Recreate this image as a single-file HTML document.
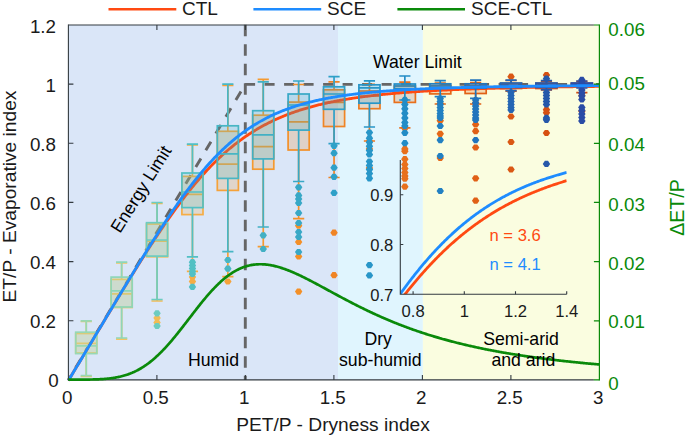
<!DOCTYPE html><html><head><meta charset="utf-8"><style>html,body{margin:0;padding:0;background:#fff;}svg{display:block;}text{font-family:"Liberation Sans",sans-serif;}</style></head><body>
<svg width="685" height="436" viewBox="0 0 685 436">
<rect x="68.4" y="25.0" width="269.6" height="354.9" fill="#dae6f8"/>
<rect x="338.0" y="25.0" width="84.9" height="354.9" fill="#e0f5fe"/>
<rect x="422.9" y="25.0" width="176.5" height="354.9" fill="#fafde0"/>
<polyline points="245.10,84.35 599.40,84.35" stroke="#666666" stroke-width="2.9" fill="none" stroke-dasharray="10 9.5"/>
<polyline points="245.40,84.15 68.40,379.90" stroke="#666666" stroke-width="2.9" fill="none" stroke-dasharray="10 9.5" stroke-dashoffset="10.9"/>
<line x1="245.30" y1="24.80" x2="245.30" y2="379.90" stroke="#666666" stroke-width="2.9" fill="none" stroke-dasharray="11.5 8"/>
<rect x="75.70" y="333.50" width="21.10" height="19.50" fill="#f3c766" fill-opacity="0.23" stroke="none"/>
<rect x="111.10" y="279.40" width="21.10" height="28.10" fill="#f2c462" fill-opacity="0.23" stroke="none"/>
<rect x="146.50" y="224.00" width="21.10" height="32.80" fill="#f2bc55" fill-opacity="0.23" stroke="none"/>
<rect x="181.90" y="176.40" width="21.10" height="38.20" fill="#f5ad45" fill-opacity="0.23" stroke="none"/>
<rect x="217.30" y="131.30" width="21.10" height="59.10" fill="#f5a23a" fill-opacity="0.23" stroke="none"/>
<rect x="252.70" y="115.20" width="21.10" height="54.00" fill="#f59a30" fill-opacity="0.23" stroke="none"/>
<rect x="288.10" y="102.10" width="21.10" height="47.90" fill="#f39028" fill-opacity="0.23" stroke="none"/>
<rect x="323.50" y="89.80" width="21.10" height="36.70" fill="#f08424" fill-opacity="0.23" stroke="none"/>
<rect x="358.90" y="91.00" width="21.10" height="17.70" fill="#ec7a20" fill-opacity="0.23" stroke="none"/>
<rect x="394.30" y="86.00" width="21.10" height="16.40" fill="#e8701c" fill-opacity="0.23" stroke="none"/>
<rect x="429.70" y="85.60" width="21.10" height="8.30" fill="#e46818" fill-opacity="0.23" stroke="none"/>
<rect x="465.10" y="85.50" width="21.10" height="8.00" fill="#e06016" fill-opacity="0.23" stroke="none"/>
<rect x="500.50" y="83.50" width="21.10" height="5.00" fill="#da5814" fill-opacity="0.23" stroke="none"/>
<rect x="535.90" y="83.50" width="21.10" height="5.00" fill="#d65012" fill-opacity="0.23" stroke="none"/>
<rect x="571.30" y="83.50" width="21.10" height="3.00" fill="#d04c10" fill-opacity="0.23" stroke="none"/>
<path d="M86.25 321.50V333.50M86.25 353.00V376.50M80.65 321.50H91.85M80.65 376.50H91.85M75.70 343.30H96.80" stroke="#f3c766" stroke-width="1.7" fill="none"/>
<rect x="75.70" y="333.50" width="21.10" height="19.50" stroke="#f3c766" stroke-width="1.7" fill="none"/>
<path d="M121.65 263.00V279.40M121.65 307.50V339.20M116.05 263.00H127.25M116.05 339.20H127.25M111.10 293.90H132.20" stroke="#f2c462" stroke-width="1.7" fill="none"/>
<rect x="111.10" y="279.40" width="21.10" height="28.10" stroke="#f2c462" stroke-width="1.7" fill="none"/>
<path d="M157.05 203.50V224.00M157.05 256.80V301.00M151.45 203.50H162.65M151.45 301.00H162.65M146.50 241.20H167.60" stroke="#f2bc55" stroke-width="1.7" fill="none"/>
<rect x="146.50" y="224.00" width="21.10" height="32.80" stroke="#f2bc55" stroke-width="1.7" fill="none"/>
<path d="M192.45 145.00V176.40M192.45 214.60V271.40M186.85 145.00H198.05M186.85 271.40H198.05M181.90 194.40H203.00" stroke="#f5ad45" stroke-width="1.7" fill="none"/>
<rect x="181.90" y="176.40" width="21.10" height="38.20" stroke="#f5ad45" stroke-width="1.7" fill="none"/>
<path d="M227.85 85.50V131.30M227.85 190.40V276.70M222.25 85.50H233.45M222.25 276.70H233.45M217.30 164.20H238.40" stroke="#f5a23a" stroke-width="1.7" fill="none"/>
<rect x="217.30" y="131.30" width="21.10" height="59.10" stroke="#f5a23a" stroke-width="1.7" fill="none"/>
<path d="M263.25 79.30V115.20M263.25 169.20V246.60M257.65 79.30H268.85M257.65 246.60H268.85M252.70 146.70H273.80" stroke="#f59a30" stroke-width="1.7" fill="none"/>
<rect x="252.70" y="115.20" width="21.10" height="54.00" stroke="#f59a30" stroke-width="1.7" fill="none"/>
<path d="M298.65 84.50V102.10M298.65 150.00V218.60M293.05 84.50H304.25M293.05 218.60H304.25M288.10 121.80H309.20" stroke="#f39028" stroke-width="1.7" fill="none"/>
<rect x="288.10" y="102.10" width="21.10" height="47.90" stroke="#f39028" stroke-width="1.7" fill="none"/>
<path d="M334.05 81.80V89.80M334.05 126.50V177.50M328.45 81.80H339.65M328.45 177.50H339.65M323.50 102.40H344.60" stroke="#f08424" stroke-width="1.7" fill="none"/>
<rect x="323.50" y="89.80" width="21.10" height="36.70" stroke="#f08424" stroke-width="1.7" fill="none"/>
<path d="M369.45 84.30V91.00M369.45 108.70V141.00M363.85 84.30H375.05M363.85 141.00H375.05M358.90 96.00H380.00" stroke="#ec7a20" stroke-width="1.7" fill="none"/>
<rect x="358.90" y="91.00" width="21.10" height="17.70" stroke="#ec7a20" stroke-width="1.7" fill="none"/>
<path d="M404.85 82.20V86.00M404.85 102.40V127.80M399.25 82.20H410.45M399.25 127.80H410.45M394.30 92.00H415.40" stroke="#e8701c" stroke-width="1.7" fill="none"/>
<rect x="394.30" y="86.00" width="21.10" height="16.40" stroke="#e8701c" stroke-width="1.7" fill="none"/>
<path d="M440.25 83.00V85.60M440.25 93.90V104.00M434.65 83.00H445.85M434.65 104.00H445.85M429.70 89.00H450.80" stroke="#e46818" stroke-width="1.7" fill="none"/>
<rect x="429.70" y="85.60" width="21.10" height="8.30" stroke="#e46818" stroke-width="1.7" fill="none"/>
<path d="M475.65 82.50V85.50M475.65 93.50V104.00M470.05 82.50H481.25M470.05 104.00H481.25M465.10 89.00H486.20" stroke="#e06016" stroke-width="1.7" fill="none"/>
<rect x="465.10" y="85.50" width="21.10" height="8.00" stroke="#e06016" stroke-width="1.7" fill="none"/>
<path d="M511.05 80.50V83.50M511.05 88.50V91.20M505.45 80.50H516.65M505.45 91.20H516.65M500.50 86.00H521.60" stroke="#da5814" stroke-width="1.7" fill="none"/>
<rect x="500.50" y="83.50" width="21.10" height="5.00" stroke="#da5814" stroke-width="1.7" fill="none"/>
<path d="M546.45 81.50V83.50M546.45 88.50V90.00M540.85 81.50H552.05M540.85 90.00H552.05M535.90 86.00H557.00" stroke="#d65012" stroke-width="1.7" fill="none"/>
<rect x="535.90" y="83.50" width="21.10" height="5.00" stroke="#d65012" stroke-width="1.7" fill="none"/>
<path d="M581.85 81.50V83.50M581.85 86.50V92.60M576.25 81.50H587.45M576.25 92.60H587.45M571.30 85.00H592.40" stroke="#d04c10" stroke-width="1.7" fill="none"/>
<rect x="571.30" y="83.50" width="21.10" height="3.00" stroke="#d04c10" stroke-width="1.7" fill="none"/>
<path d="M153.35 318.00l2.1 -3.1h3.2l2.1 3.1l-2.1 3.1h-3.2z" fill="#f2bc55"/>
<path d="M153.35 322.50l2.1 -3.1h3.2l2.1 3.1l-2.1 3.1h-3.2z" fill="#f2bc55"/>
<path d="M188.75 277.00l2.1 -3.1h3.2l2.1 3.1l-2.1 3.1h-3.2z" fill="#f5ad45"/>
<path d="M188.75 281.50l2.1 -3.1h3.2l2.1 3.1l-2.1 3.1h-3.2z" fill="#f5ad45"/>
<path d="M224.15 281.50l2.1 -3.1h3.2l2.1 3.1l-2.1 3.1h-3.2z" fill="#f5a23a"/>
<path d="M294.95 225.70l2.1 -3.1h3.2l2.1 3.1l-2.1 3.1h-3.2z" fill="#f39028"/>
<path d="M294.95 242.00l2.1 -3.1h3.2l2.1 3.1l-2.1 3.1h-3.2z" fill="#f39028"/>
<path d="M294.95 256.50l2.1 -3.1h3.2l2.1 3.1l-2.1 3.1h-3.2z" fill="#f39028"/>
<path d="M294.95 291.60l2.1 -3.1h3.2l2.1 3.1l-2.1 3.1h-3.2z" fill="#f39028"/>
<path d="M330.35 232.70l2.1 -3.1h3.2l2.1 3.1l-2.1 3.1h-3.2z" fill="#f08424"/>
<path d="M330.35 275.20l2.1 -3.1h3.2l2.1 3.1l-2.1 3.1h-3.2z" fill="#f08424"/>
<path d="M365.75 141.20l2.1 -3.1h3.2l2.1 3.1l-2.1 3.1h-3.2z" fill="#ec7a20"/>
<path d="M365.75 148.90l2.1 -3.1h3.2l2.1 3.1l-2.1 3.1h-3.2z" fill="#ec7a20"/>
<path d="M365.75 168.10l2.1 -3.1h3.2l2.1 3.1l-2.1 3.1h-3.2z" fill="#ec7a20"/>
<path d="M401.15 128.30l2.1 -3.1h3.2l2.1 3.1l-2.1 3.1h-3.2z" fill="#e8701c"/>
<path d="M401.15 148.90l2.1 -3.1h3.2l2.1 3.1l-2.1 3.1h-3.2z" fill="#e8701c"/>
<path d="M401.15 151.20l2.1 -3.1h3.2l2.1 3.1l-2.1 3.1h-3.2z" fill="#e8701c"/>
<path d="M401.15 159.20l2.1 -3.1h3.2l2.1 3.1l-2.1 3.1h-3.2z" fill="#e8701c"/>
<path d="M401.15 164.50l2.1 -3.1h3.2l2.1 3.1l-2.1 3.1h-3.2z" fill="#e8701c"/>
<path d="M401.15 168.50l2.1 -3.1h3.2l2.1 3.1l-2.1 3.1h-3.2z" fill="#e8701c"/>
<path d="M401.15 172.50l2.1 -3.1h3.2l2.1 3.1l-2.1 3.1h-3.2z" fill="#e8701c"/>
<path d="M401.15 176.00l2.1 -3.1h3.2l2.1 3.1l-2.1 3.1h-3.2z" fill="#e8701c"/>
<path d="M401.15 178.70l2.1 -3.1h3.2l2.1 3.1l-2.1 3.1h-3.2z" fill="#e8701c"/>
<path d="M401.15 186.70l2.1 -3.1h3.2l2.1 3.1l-2.1 3.1h-3.2z" fill="#e8701c"/>
<path d="M436.55 103.60l2.1 -3.1h3.2l2.1 3.1l-2.1 3.1h-3.2z" fill="#e46818"/>
<path d="M436.55 120.70l2.1 -3.1h3.2l2.1 3.1l-2.1 3.1h-3.2z" fill="#e46818"/>
<path d="M436.55 133.80l2.1 -3.1h3.2l2.1 3.1l-2.1 3.1h-3.2z" fill="#e46818"/>
<path d="M436.55 158.00l2.1 -3.1h3.2l2.1 3.1l-2.1 3.1h-3.2z" fill="#e46818"/>
<path d="M471.95 102.80l2.1 -3.1h3.2l2.1 3.1l-2.1 3.1h-3.2z" fill="#e06016"/>
<path d="M471.95 124.40l2.1 -3.1h3.2l2.1 3.1l-2.1 3.1h-3.2z" fill="#e06016"/>
<path d="M471.95 131.20l2.1 -3.1h3.2l2.1 3.1l-2.1 3.1h-3.2z" fill="#e06016"/>
<path d="M471.95 147.50l2.1 -3.1h3.2l2.1 3.1l-2.1 3.1h-3.2z" fill="#e06016"/>
<path d="M471.95 178.30l2.1 -3.1h3.2l2.1 3.1l-2.1 3.1h-3.2z" fill="#e06016"/>
<path d="M471.95 200.70l2.1 -3.1h3.2l2.1 3.1l-2.1 3.1h-3.2z" fill="#e06016"/>
<path d="M507.35 76.70l2.1 -3.1h3.2l2.1 3.1l-2.1 3.1h-3.2z" fill="#da5814"/>
<path d="M507.35 116.50l2.1 -3.1h3.2l2.1 3.1l-2.1 3.1h-3.2z" fill="#da5814"/>
<path d="M507.35 142.00l2.1 -3.1h3.2l2.1 3.1l-2.1 3.1h-3.2z" fill="#da5814"/>
<path d="M507.35 169.50l2.1 -3.1h3.2l2.1 3.1l-2.1 3.1h-3.2z" fill="#da5814"/>
<path d="M542.75 75.10l2.1 -3.1h3.2l2.1 3.1l-2.1 3.1h-3.2z" fill="#d65012"/>
<path d="M542.75 109.70l2.1 -3.1h3.2l2.1 3.1l-2.1 3.1h-3.2z" fill="#d65012"/>
<path d="M542.75 112.70l2.1 -3.1h3.2l2.1 3.1l-2.1 3.1h-3.2z" fill="#d65012"/>
<path d="M542.75 133.00l2.1 -3.1h3.2l2.1 3.1l-2.1 3.1h-3.2z" fill="#d65012"/>
<path d="M578.15 95.50l2.1 -3.1h3.2l2.1 3.1l-2.1 3.1h-3.2z" fill="#d04c10"/>
<path d="M578.15 111.20l2.1 -3.1h3.2l2.1 3.1l-2.1 3.1h-3.2z" fill="#d04c10"/>
<polyline points="68.49,380.45 69.37,378.97 70.26,377.49 71.15,376.01 72.03,374.53 72.92,373.05 73.81,371.57 74.69,370.09 75.58,368.60 76.47,367.12 77.35,365.64 78.24,364.16 79.12,362.68 80.01,361.20 80.90,359.72 81.78,358.24 82.67,356.76 83.56,355.28 84.44,353.80 85.33,352.32 86.22,350.83 87.10,349.35 87.99,347.87 88.87,346.39 89.76,344.91 90.65,343.43 91.53,341.95 92.42,340.47 93.31,338.99 94.19,337.52 95.08,336.04 95.96,334.56 96.85,333.08 97.74,331.60 98.62,330.12 99.51,328.65 100.40,327.17 101.28,325.69 102.17,324.22 103.06,322.74 103.94,321.26 104.83,319.79 105.71,318.31 106.60,316.84 107.49,315.37 108.37,313.90 109.26,312.42 110.15,310.95 111.03,309.48 111.92,308.01 112.80,306.54 113.69,305.08 114.58,303.61 115.46,302.15 116.35,300.68 117.24,299.22 118.12,297.75 119.01,296.29 119.90,294.83 120.78,293.38 121.67,291.92 122.55,290.46 123.44,289.01 124.33,287.56 125.21,286.11 126.10,284.66 126.99,283.21 127.87,281.76 128.76,280.32 129.65,278.88 130.53,277.44 131.42,276.00 132.30,274.57 133.19,273.13 134.08,271.70 134.96,270.28 135.85,268.85 136.74,267.43 137.62,266.01 138.51,264.59 139.39,263.17 140.28,261.76 141.17,260.35 142.05,258.95 142.94,257.55 143.83,256.15 144.71,254.75 145.60,253.36 146.49,251.97 147.37,250.58 148.26,249.20 149.14,247.82 150.03,246.45 150.92,245.08 151.80,243.71 152.69,242.35 153.58,241.00 154.46,239.64 155.35,238.29 156.24,236.95 157.12,235.61 158.01,234.28 158.89,232.95 159.78,231.62 160.67,230.30 161.55,228.99 162.44,227.68 163.33,226.37 164.21,225.07 165.10,223.78 165.98,222.49 166.87,221.21 167.76,219.93 168.64,218.66 169.53,217.39 170.42,216.14 171.30,214.88 172.19,213.64 173.08,212.39 173.96,211.16 174.85,209.93 175.73,208.71 176.62,207.50 177.51,206.29 178.39,205.09 179.28,203.89 180.17,202.70 181.05,201.52 181.94,200.35 182.83,199.18 183.71,198.02 184.60,196.87 185.48,195.72 186.37,194.59 187.26,193.46 188.14,192.33 189.03,191.22 189.92,190.11 190.80,189.01 191.69,187.92 192.57,186.83 193.46,185.75 194.35,184.68 195.23,183.62 196.12,182.57 197.01,181.52 197.89,180.48 198.78,179.45 199.67,178.43 200.55,177.42 201.44,176.41 202.32,175.41 203.21,174.42 204.10,173.44 204.98,172.47 205.87,171.50 206.76,170.55 207.64,169.60 208.53,168.66 209.41,167.72 210.30,166.80 211.19,165.88 212.07,164.98 212.96,164.08 213.85,163.19 214.73,162.30 215.62,161.43 216.51,160.56 217.39,159.70 218.28,158.85 219.16,158.01 220.05,157.18 220.94,156.35 221.82,155.53 222.71,154.72 223.60,153.92 224.48,153.13 225.37,152.34 226.26,151.56 227.14,150.79 228.03,150.03 228.91,149.28 229.80,148.53 230.69,147.79 231.57,147.06 232.46,146.34 233.35,145.63 234.23,144.92 235.12,144.22 236.00,143.53 236.89,142.84 237.78,142.17 238.66,141.50 239.55,140.83 240.44,140.18 241.32,139.53 242.21,138.89 243.10,138.26 243.98,137.63 244.87,137.02 245.75,136.40 246.64,135.80 247.53,135.20 248.41,134.61 249.30,134.03 250.19,133.45 251.07,132.88 251.96,132.32 252.85,131.76 253.73,131.21 254.62,130.67 255.50,130.13 256.39,129.60 257.28,129.07 258.16,128.55 259.05,128.04 259.94,127.54 260.82,127.04 261.71,126.54 262.59,126.05 263.48,125.57 264.37,125.10 265.25,124.63 266.14,124.16 267.03,123.70 267.91,123.25 268.80,122.80 269.69,122.36 270.57,121.92 271.46,121.49 272.34,121.07 273.23,120.65 274.12,120.23 275.00,119.82 275.89,119.42 276.78,119.02 277.66,118.62 278.55,118.23 279.43,117.85 280.32,117.47 281.21,117.09 282.09,116.72 282.98,116.35 283.87,115.99 284.75,115.63 285.64,115.28 286.53,114.93 287.41,114.59 288.30,114.25 289.18,113.92 290.07,113.59 290.96,113.26 291.84,112.94 292.73,112.62 293.62,112.30 294.50,111.99 295.39,111.69 296.28,111.38 297.16,111.09 298.05,110.79 298.93,110.50 299.82,110.21 300.71,109.93 301.59,109.65 302.48,109.37 303.37,109.10 304.25,108.83 305.14,108.56 306.02,108.30 306.91,108.04 307.80,107.78 308.68,107.53 309.57,107.28 310.46,107.03 311.34,106.79 312.23,106.55 313.12,106.31 314.00,106.08 314.89,105.85 315.77,105.62 316.66,105.39 317.55,105.17 318.43,104.95 319.32,104.73 320.21,104.52 321.09,104.30 321.98,104.10 322.87,103.89 323.75,103.68 324.64,103.48 325.52,103.28 326.41,103.09 327.30,102.89 328.18,102.70 329.07,102.51 329.96,102.33 330.84,102.14 331.73,101.96 332.61,101.78 333.50,101.60 334.39,101.43 335.27,101.25 336.16,101.08 337.05,100.91 337.93,100.75 338.82,100.58 339.71,100.42 340.59,100.26 341.48,100.10 342.36,99.94 343.25,99.79 344.14,99.63 345.02,99.48 345.91,99.33 346.80,99.18 347.68,99.04 348.57,98.89 349.46,98.75 350.34,98.61 351.23,98.47 352.11,98.34 353.00,98.20 353.89,98.07 354.77,97.93 355.66,97.80 356.55,97.67 357.43,97.55 358.32,97.42 359.20,97.30 360.09,97.17 360.98,97.05 361.86,96.93 362.75,96.81 363.64,96.69 364.52,96.58 365.41,96.46 366.30,96.35 367.18,96.24 368.07,96.13 368.95,96.02 369.84,95.91 370.73,95.80 371.61,95.70 372.50,95.59 373.39,95.49 374.27,95.39 375.16,95.29 376.04,95.19 376.93,95.09 377.82,94.99 378.70,94.90 379.59,94.80 380.48,94.71 381.36,94.62 382.25,94.53 383.14,94.43 384.02,94.35 384.91,94.26 385.79,94.17 386.68,94.08 387.57,94.00 388.45,93.91 389.34,93.83 390.23,93.75 391.11,93.66 392.00,93.58 392.89,93.50 393.77,93.42 394.66,93.35 395.54,93.27 396.43,93.19 397.32,93.12 398.20,93.04 399.09,92.97 399.98,92.89 400.86,92.82 401.75,92.75 402.63,92.68 403.52,92.61 404.41,92.54 405.29,92.47 406.18,92.41 407.07,92.34 407.95,92.27 408.84,92.21 409.73,92.14 410.61,92.08 411.50,92.01 412.38,91.95 413.27,91.89 414.16,91.83 415.04,91.77 415.93,91.71 416.82,91.65 417.70,91.59 418.59,91.53 419.48,91.47 420.36,91.42 421.25,91.36 422.13,91.31 423.02,91.25 423.91,91.20 424.79,91.14 425.68,91.09 426.57,91.04 427.45,90.98 428.34,90.93 429.22,90.88 430.11,90.83 431.00,90.78 431.88,90.73 432.77,90.68 433.66,90.63 434.54,90.59 435.43,90.54 436.32,90.49 437.20,90.44 438.09,90.40 438.97,90.35 439.86,90.31 440.75,90.26 441.63,90.22 442.52,90.17 443.41,90.13 444.29,90.09 445.18,90.05 446.06,90.00 446.95,89.96 447.84,89.92 448.72,89.88 449.61,89.84 450.50,89.80 451.38,89.76 452.27,89.72 453.16,89.68 454.04,89.64 454.93,89.61 455.81,89.57 456.70,89.53 457.59,89.49 458.47,89.46 459.36,89.42 460.25,89.39 461.13,89.35 462.02,89.31 462.91,89.28 463.79,89.25 464.68,89.21 465.56,89.18 466.45,89.14 467.34,89.11 468.22,89.08 469.11,89.05 470.00,89.01 470.88,88.98 471.77,88.95 472.65,88.92 473.54,88.89 474.43,88.86 475.31,88.83 476.20,88.80 477.09,88.77 477.97,88.74 478.86,88.71 479.75,88.68 480.63,88.65 481.52,88.62 482.40,88.59 483.29,88.57 484.18,88.54 485.06,88.51 485.95,88.48 486.84,88.46 487.72,88.43 488.61,88.40 489.50,88.38 490.38,88.35 491.27,88.33 492.15,88.30 493.04,88.28 493.93,88.25 494.81,88.23 495.70,88.20 496.59,88.18 497.47,88.15 498.36,88.13 499.24,88.11 500.13,88.08 501.02,88.06 501.90,88.04 502.79,88.01 503.68,87.99 504.56,87.97 505.45,87.95 506.34,87.92 507.22,87.90 508.11,87.88 508.99,87.86 509.88,87.84 510.77,87.82 511.65,87.80 512.54,87.78 513.43,87.76 514.31,87.74 515.20,87.72 516.09,87.70 516.97,87.68 517.86,87.66 518.74,87.64 519.63,87.62 520.52,87.60 521.40,87.58 522.29,87.56 523.18,87.54 524.06,87.52 524.95,87.51 525.83,87.49 526.72,87.47 527.61,87.45 528.49,87.43 529.38,87.42 530.27,87.40 531.15,87.38 532.04,87.36 532.93,87.35 533.81,87.33 534.70,87.31 535.58,87.30 536.47,87.28 537.36,87.27 538.24,87.25 539.13,87.23 540.02,87.22 540.90,87.20 541.79,87.19 542.67,87.17 543.56,87.16 544.45,87.14 545.33,87.13 546.22,87.11 547.11,87.10 547.99,87.08 548.88,87.07 549.77,87.05 550.65,87.04 551.54,87.02 552.42,87.01 553.31,87.00 554.20,86.98 555.08,86.97 555.97,86.95 556.86,86.94 557.74,86.93 558.63,86.91 559.52,86.90 560.40,86.89 561.29,86.88 562.17,86.86 563.06,86.85 563.95,86.84 564.83,86.82 565.72,86.81 566.61,86.80 567.49,86.79 568.38,86.78 569.26,86.76 570.15,86.75 571.04,86.74 571.92,86.73 572.81,86.72 573.70,86.70 574.58,86.69 575.47,86.68 576.36,86.67 577.24,86.66 578.13,86.65 579.01,86.64 579.90,86.63 580.79,86.62 581.67,86.60 582.56,86.59 583.45,86.58 584.33,86.57 585.22,86.56 586.11,86.55 586.99,86.54 587.88,86.53 588.76,86.52 589.65,86.51 590.54,86.50 591.42,86.49 592.31,86.48 593.20,86.47 594.08,86.46 594.97,86.45 595.85,86.44 596.74,86.43 597.63,86.42 598.51,86.41 599.40,86.40" stroke="#ff4a12" stroke-width="2.85" fill="none" stroke-linejoin="round"/>
<rect x="75.70" y="332.20" width="21.10" height="21.40" fill="#97d8b4" fill-opacity="0.22" stroke="none"/>
<rect x="111.10" y="277.10" width="21.10" height="29.90" fill="#8ed6b8" fill-opacity="0.22" stroke="none"/>
<rect x="146.50" y="222.70" width="21.10" height="33.40" fill="#6cccc0" fill-opacity="0.22" stroke="none"/>
<rect x="181.90" y="173.00" width="21.10" height="34.60" fill="#52c0c4" fill-opacity="0.22" stroke="none"/>
<rect x="217.30" y="125.80" width="21.10" height="52.60" fill="#48b6c4" fill-opacity="0.22" stroke="none"/>
<rect x="252.70" y="110.70" width="21.10" height="48.20" fill="#42b0c4" fill-opacity="0.22" stroke="none"/>
<rect x="288.10" y="94.00" width="21.10" height="36.10" fill="#38a8c6" fill-opacity="0.22" stroke="none"/>
<rect x="323.50" y="86.80" width="21.10" height="22.50" fill="#2ea0c8" fill-opacity="0.22" stroke="none"/>
<rect x="358.90" y="84.80" width="21.10" height="18.40" fill="#2896c8" fill-opacity="0.22" stroke="none"/>
<rect x="394.30" y="84.00" width="21.10" height="4.70" fill="#228cc6" fill-opacity="0.22" stroke="none"/>
<rect x="429.70" y="83.80" width="21.10" height="4.50" fill="#2280c2" fill-opacity="0.22" stroke="none"/>
<rect x="465.10" y="83.80" width="21.10" height="4.20" fill="#2274bc" fill-opacity="0.22" stroke="none"/>
<rect x="500.50" y="83.00" width="21.10" height="4.50" fill="#2466b4" fill-opacity="0.22" stroke="none"/>
<rect x="535.90" y="83.00" width="21.10" height="4.50" fill="#2658aa" fill-opacity="0.22" stroke="none"/>
<rect x="571.30" y="83.00" width="21.10" height="3.00" fill="#2a4ca6" fill-opacity="0.22" stroke="none"/>
<path d="M86.25 320.90V332.20M86.25 353.60V375.70M80.65 320.90H91.85M80.65 375.70H91.85M75.70 345.80H96.80" stroke="#97d8b4" stroke-width="1.7" fill="none"/>
<rect x="75.70" y="332.20" width="21.10" height="21.40" stroke="#97d8b4" stroke-width="1.7" fill="none"/>
<path d="M121.65 262.20V277.10M121.65 307.00V338.00M116.05 262.20H127.25M116.05 338.00H127.25M111.10 290.90H132.20" stroke="#8ed6b8" stroke-width="1.7" fill="none"/>
<rect x="111.10" y="277.10" width="21.10" height="29.90" stroke="#8ed6b8" stroke-width="1.7" fill="none"/>
<path d="M157.05 202.50V222.70M157.05 256.10V299.50M151.45 202.50H162.65M151.45 299.50H162.65M146.50 240.00H167.60" stroke="#6cccc0" stroke-width="1.7" fill="none"/>
<rect x="146.50" y="222.70" width="21.10" height="33.40" stroke="#6cccc0" stroke-width="1.7" fill="none"/>
<path d="M192.45 144.10V173.00M192.45 207.60V256.80M186.85 144.10H198.05M186.85 256.80H198.05M181.90 192.00H203.00" stroke="#52c0c4" stroke-width="1.7" fill="none"/>
<rect x="181.90" y="173.00" width="21.10" height="34.60" stroke="#52c0c4" stroke-width="1.7" fill="none"/>
<path d="M227.85 84.10V125.80M227.85 178.40V251.70M222.25 84.10H233.45M222.25 251.70H233.45M217.30 153.80H238.40" stroke="#48b6c4" stroke-width="1.7" fill="none"/>
<rect x="217.30" y="125.80" width="21.10" height="52.60" stroke="#48b6c4" stroke-width="1.7" fill="none"/>
<path d="M263.25 81.80V110.70M263.25 158.90V227.00M257.65 81.80H268.85M257.65 227.00H268.85M252.70 134.80H273.80" stroke="#42b0c4" stroke-width="1.7" fill="none"/>
<rect x="252.70" y="110.70" width="21.10" height="48.20" stroke="#42b0c4" stroke-width="1.7" fill="none"/>
<path d="M298.65 81.00V94.00M298.65 130.10V181.50M293.05 81.00H304.25M293.05 181.50H304.25M288.10 105.00H309.20" stroke="#38a8c6" stroke-width="1.7" fill="none"/>
<rect x="288.10" y="94.00" width="21.10" height="36.10" stroke="#38a8c6" stroke-width="1.7" fill="none"/>
<path d="M334.05 76.70V86.80M334.05 109.30V143.60M328.45 76.70H339.65M328.45 143.60H339.65M323.50 94.00H344.60" stroke="#2ea0c8" stroke-width="1.7" fill="none"/>
<rect x="323.50" y="86.80" width="21.10" height="22.50" stroke="#2ea0c8" stroke-width="1.7" fill="none"/>
<path d="M369.45 80.90V84.80M369.45 103.20V127.00M363.85 80.90H375.05M363.85 127.00H375.05M358.90 87.80H380.00" stroke="#2896c8" stroke-width="1.7" fill="none"/>
<rect x="358.90" y="84.80" width="21.10" height="18.40" stroke="#2896c8" stroke-width="1.7" fill="none"/>
<path d="M404.85 76.00V84.00M404.85 88.70V100.00M399.25 76.00H410.45M399.25 100.00H410.45M394.30 86.00H415.40" stroke="#228cc6" stroke-width="1.7" fill="none"/>
<rect x="394.30" y="84.00" width="21.10" height="4.70" stroke="#228cc6" stroke-width="1.7" fill="none"/>
<path d="M440.25 80.60V83.80M440.25 88.30V96.60M434.65 80.60H445.85M434.65 96.60H445.85M429.70 86.00H450.80" stroke="#2280c2" stroke-width="1.7" fill="none"/>
<rect x="429.70" y="83.80" width="21.10" height="4.50" stroke="#2280c2" stroke-width="1.7" fill="none"/>
<path d="M475.65 80.10V83.80M475.65 88.00V98.40M470.05 80.10H481.25M470.05 98.40H481.25M465.10 86.00H486.20" stroke="#2274bc" stroke-width="1.7" fill="none"/>
<rect x="465.10" y="83.80" width="21.10" height="4.20" stroke="#2274bc" stroke-width="1.7" fill="none"/>
<path d="M511.05 80.10V83.00M511.05 87.50V90.70M505.45 80.10H516.65M505.45 90.70H516.65M500.50 85.00H521.60" stroke="#2466b4" stroke-width="1.7" fill="none"/>
<rect x="500.50" y="83.00" width="21.10" height="4.50" stroke="#2466b4" stroke-width="1.7" fill="none"/>
<path d="M546.45 80.60V83.00M546.45 87.50V89.60M540.85 80.60H552.05M540.85 89.60H552.05M535.90 85.00H557.00" stroke="#2658aa" stroke-width="1.7" fill="none"/>
<rect x="535.90" y="83.00" width="21.10" height="4.50" stroke="#2658aa" stroke-width="1.7" fill="none"/>
<path d="M581.85 81.00V83.00M581.85 86.00V88.00M576.25 81.00H587.45M576.25 88.00H587.45M571.30 84.50H592.40" stroke="#2a4ca6" stroke-width="1.7" fill="none"/>
<rect x="571.30" y="83.00" width="21.10" height="3.00" stroke="#2a4ca6" stroke-width="1.7" fill="none"/>
<path d="M153.35 313.30l2.1 -3.1h3.2l2.1 3.1l-2.1 3.1h-3.2z" fill="#6cccc0"/>
<path d="M153.35 326.00l2.1 -3.1h3.2l2.1 3.1l-2.1 3.1h-3.2z" fill="#6cccc0"/>
<path d="M188.75 262.20l2.1 -3.1h3.2l2.1 3.1l-2.1 3.1h-3.2z" fill="#52c0c4"/>
<path d="M188.75 265.50l2.1 -3.1h3.2l2.1 3.1l-2.1 3.1h-3.2z" fill="#52c0c4"/>
<path d="M188.75 268.50l2.1 -3.1h3.2l2.1 3.1l-2.1 3.1h-3.2z" fill="#52c0c4"/>
<path d="M188.75 271.50l2.1 -3.1h3.2l2.1 3.1l-2.1 3.1h-3.2z" fill="#52c0c4"/>
<path d="M188.75 274.00l2.1 -3.1h3.2l2.1 3.1l-2.1 3.1h-3.2z" fill="#52c0c4"/>
<path d="M188.75 286.90l2.1 -3.1h3.2l2.1 3.1l-2.1 3.1h-3.2z" fill="#52c0c4"/>
<path d="M224.15 260.00l2.1 -3.1h3.2l2.1 3.1l-2.1 3.1h-3.2z" fill="#48b6c4"/>
<path d="M224.15 268.70l2.1 -3.1h3.2l2.1 3.1l-2.1 3.1h-3.2z" fill="#48b6c4"/>
<path d="M259.55 235.30l2.1 -3.1h3.2l2.1 3.1l-2.1 3.1h-3.2z" fill="#42b0c4"/>
<path d="M259.55 249.00l2.1 -3.1h3.2l2.1 3.1l-2.1 3.1h-3.2z" fill="#42b0c4"/>
<path d="M294.95 187.30l2.1 -3.1h3.2l2.1 3.1l-2.1 3.1h-3.2z" fill="#38a8c6"/>
<path d="M294.95 195.40l2.1 -3.1h3.2l2.1 3.1l-2.1 3.1h-3.2z" fill="#38a8c6"/>
<path d="M294.95 199.00l2.1 -3.1h3.2l2.1 3.1l-2.1 3.1h-3.2z" fill="#38a8c6"/>
<path d="M294.95 203.00l2.1 -3.1h3.2l2.1 3.1l-2.1 3.1h-3.2z" fill="#38a8c6"/>
<path d="M294.95 213.00l2.1 -3.1h3.2l2.1 3.1l-2.1 3.1h-3.2z" fill="#38a8c6"/>
<path d="M294.95 223.00l2.1 -3.1h3.2l2.1 3.1l-2.1 3.1h-3.2z" fill="#38a8c6"/>
<path d="M294.95 232.00l2.1 -3.1h3.2l2.1 3.1l-2.1 3.1h-3.2z" fill="#38a8c6"/>
<path d="M294.95 237.00l2.1 -3.1h3.2l2.1 3.1l-2.1 3.1h-3.2z" fill="#38a8c6"/>
<path d="M294.95 252.00l2.1 -3.1h3.2l2.1 3.1l-2.1 3.1h-3.2z" fill="#38a8c6"/>
<path d="M330.35 145.80l2.1 -3.1h3.2l2.1 3.1l-2.1 3.1h-3.2z" fill="#2ea0c8"/>
<path d="M330.35 153.20l2.1 -3.1h3.2l2.1 3.1l-2.1 3.1h-3.2z" fill="#2ea0c8"/>
<path d="M330.35 167.70l2.1 -3.1h3.2l2.1 3.1l-2.1 3.1h-3.2z" fill="#2ea0c8"/>
<path d="M330.35 176.80l2.1 -3.1h3.2l2.1 3.1l-2.1 3.1h-3.2z" fill="#2ea0c8"/>
<path d="M330.35 192.90l2.1 -3.1h3.2l2.1 3.1l-2.1 3.1h-3.2z" fill="#2ea0c8"/>
<path d="M365.75 132.50l2.1 -3.1h3.2l2.1 3.1l-2.1 3.1h-3.2z" fill="#2896c8"/>
<path d="M365.75 138.20l2.1 -3.1h3.2l2.1 3.1l-2.1 3.1h-3.2z" fill="#2896c8"/>
<path d="M365.75 142.20l2.1 -3.1h3.2l2.1 3.1l-2.1 3.1h-3.2z" fill="#2896c8"/>
<path d="M365.75 146.20l2.1 -3.1h3.2l2.1 3.1l-2.1 3.1h-3.2z" fill="#2896c8"/>
<path d="M365.75 150.40l2.1 -3.1h3.2l2.1 3.1l-2.1 3.1h-3.2z" fill="#2896c8"/>
<path d="M365.75 154.40l2.1 -3.1h3.2l2.1 3.1l-2.1 3.1h-3.2z" fill="#2896c8"/>
<path d="M365.75 161.50l2.1 -3.1h3.2l2.1 3.1l-2.1 3.1h-3.2z" fill="#2896c8"/>
<path d="M365.75 165.50l2.1 -3.1h3.2l2.1 3.1l-2.1 3.1h-3.2z" fill="#2896c8"/>
<path d="M365.75 169.50l2.1 -3.1h3.2l2.1 3.1l-2.1 3.1h-3.2z" fill="#2896c8"/>
<path d="M365.75 173.50l2.1 -3.1h3.2l2.1 3.1l-2.1 3.1h-3.2z" fill="#2896c8"/>
<path d="M365.75 178.30l2.1 -3.1h3.2l2.1 3.1l-2.1 3.1h-3.2z" fill="#2896c8"/>
<path d="M365.75 265.10l2.1 -3.1h3.2l2.1 3.1l-2.1 3.1h-3.2z" fill="#2896c8"/>
<path d="M365.75 275.40l2.1 -3.1h3.2l2.1 3.1l-2.1 3.1h-3.2z" fill="#2896c8"/>
<path d="M401.15 99.80l2.1 -3.1h3.2l2.1 3.1l-2.1 3.1h-3.2z" fill="#228cc6"/>
<path d="M401.15 104.40l2.1 -3.1h3.2l2.1 3.1l-2.1 3.1h-3.2z" fill="#228cc6"/>
<path d="M401.15 108.80l2.1 -3.1h3.2l2.1 3.1l-2.1 3.1h-3.2z" fill="#228cc6"/>
<path d="M401.15 113.30l2.1 -3.1h3.2l2.1 3.1l-2.1 3.1h-3.2z" fill="#228cc6"/>
<path d="M401.15 118.00l2.1 -3.1h3.2l2.1 3.1l-2.1 3.1h-3.2z" fill="#228cc6"/>
<path d="M401.15 122.50l2.1 -3.1h3.2l2.1 3.1l-2.1 3.1h-3.2z" fill="#228cc6"/>
<path d="M401.15 126.00l2.1 -3.1h3.2l2.1 3.1l-2.1 3.1h-3.2z" fill="#228cc6"/>
<path d="M401.15 132.80l2.1 -3.1h3.2l2.1 3.1l-2.1 3.1h-3.2z" fill="#228cc6"/>
<path d="M401.15 143.20l2.1 -3.1h3.2l2.1 3.1l-2.1 3.1h-3.2z" fill="#228cc6"/>
<path d="M436.55 98.60l2.1 -3.1h3.2l2.1 3.1l-2.1 3.1h-3.2z" fill="#2280c2"/>
<path d="M436.55 101.50l2.1 -3.1h3.2l2.1 3.1l-2.1 3.1h-3.2z" fill="#2280c2"/>
<path d="M436.55 104.50l2.1 -3.1h3.2l2.1 3.1l-2.1 3.1h-3.2z" fill="#2280c2"/>
<path d="M436.55 107.50l2.1 -3.1h3.2l2.1 3.1l-2.1 3.1h-3.2z" fill="#2280c2"/>
<path d="M436.55 110.50l2.1 -3.1h3.2l2.1 3.1l-2.1 3.1h-3.2z" fill="#2280c2"/>
<path d="M436.55 113.50l2.1 -3.1h3.2l2.1 3.1l-2.1 3.1h-3.2z" fill="#2280c2"/>
<path d="M436.55 116.00l2.1 -3.1h3.2l2.1 3.1l-2.1 3.1h-3.2z" fill="#2280c2"/>
<path d="M436.55 118.00l2.1 -3.1h3.2l2.1 3.1l-2.1 3.1h-3.2z" fill="#2280c2"/>
<path d="M436.55 126.00l2.1 -3.1h3.2l2.1 3.1l-2.1 3.1h-3.2z" fill="#2280c2"/>
<path d="M436.55 140.10l2.1 -3.1h3.2l2.1 3.1l-2.1 3.1h-3.2z" fill="#2280c2"/>
<path d="M436.55 156.00l2.1 -3.1h3.2l2.1 3.1l-2.1 3.1h-3.2z" fill="#2280c2"/>
<path d="M436.55 191.00l2.1 -3.1h3.2l2.1 3.1l-2.1 3.1h-3.2z" fill="#2280c2"/>
<path d="M471.95 100.00l2.1 -3.1h3.2l2.1 3.1l-2.1 3.1h-3.2z" fill="#2274bc"/>
<path d="M471.95 103.00l2.1 -3.1h3.2l2.1 3.1l-2.1 3.1h-3.2z" fill="#2274bc"/>
<path d="M471.95 106.00l2.1 -3.1h3.2l2.1 3.1l-2.1 3.1h-3.2z" fill="#2274bc"/>
<path d="M471.95 109.00l2.1 -3.1h3.2l2.1 3.1l-2.1 3.1h-3.2z" fill="#2274bc"/>
<path d="M471.95 112.00l2.1 -3.1h3.2l2.1 3.1l-2.1 3.1h-3.2z" fill="#2274bc"/>
<path d="M471.95 115.00l2.1 -3.1h3.2l2.1 3.1l-2.1 3.1h-3.2z" fill="#2274bc"/>
<path d="M471.95 118.00l2.1 -3.1h3.2l2.1 3.1l-2.1 3.1h-3.2z" fill="#2274bc"/>
<path d="M471.95 120.00l2.1 -3.1h3.2l2.1 3.1l-2.1 3.1h-3.2z" fill="#2274bc"/>
<path d="M471.95 140.10l2.1 -3.1h3.2l2.1 3.1l-2.1 3.1h-3.2z" fill="#2274bc"/>
<path d="M507.35 92.50l2.1 -3.1h3.2l2.1 3.1l-2.1 3.1h-3.2z" fill="#2466b4"/>
<path d="M507.35 95.50l2.1 -3.1h3.2l2.1 3.1l-2.1 3.1h-3.2z" fill="#2466b4"/>
<path d="M507.35 98.50l2.1 -3.1h3.2l2.1 3.1l-2.1 3.1h-3.2z" fill="#2466b4"/>
<path d="M507.35 101.50l2.1 -3.1h3.2l2.1 3.1l-2.1 3.1h-3.2z" fill="#2466b4"/>
<path d="M507.35 104.50l2.1 -3.1h3.2l2.1 3.1l-2.1 3.1h-3.2z" fill="#2466b4"/>
<path d="M507.35 107.50l2.1 -3.1h3.2l2.1 3.1l-2.1 3.1h-3.2z" fill="#2466b4"/>
<path d="M507.35 110.00l2.1 -3.1h3.2l2.1 3.1l-2.1 3.1h-3.2z" fill="#2466b4"/>
<path d="M542.75 78.70l2.1 -3.1h3.2l2.1 3.1l-2.1 3.1h-3.2z" fill="#2658aa"/>
<path d="M542.75 92.60l2.1 -3.1h3.2l2.1 3.1l-2.1 3.1h-3.2z" fill="#2658aa"/>
<path d="M542.75 95.50l2.1 -3.1h3.2l2.1 3.1l-2.1 3.1h-3.2z" fill="#2658aa"/>
<path d="M542.75 98.50l2.1 -3.1h3.2l2.1 3.1l-2.1 3.1h-3.2z" fill="#2658aa"/>
<path d="M542.75 101.50l2.1 -3.1h3.2l2.1 3.1l-2.1 3.1h-3.2z" fill="#2658aa"/>
<path d="M542.75 104.50l2.1 -3.1h3.2l2.1 3.1l-2.1 3.1h-3.2z" fill="#2658aa"/>
<path d="M542.75 117.90l2.1 -3.1h3.2l2.1 3.1l-2.1 3.1h-3.2z" fill="#2658aa"/>
<path d="M542.75 119.80l2.1 -3.1h3.2l2.1 3.1l-2.1 3.1h-3.2z" fill="#2658aa"/>
<path d="M542.75 163.90l2.1 -3.1h3.2l2.1 3.1l-2.1 3.1h-3.2z" fill="#2658aa"/>
<path d="M578.15 79.90l2.1 -3.1h3.2l2.1 3.1l-2.1 3.1h-3.2z" fill="#2a4ca6"/>
<path d="M578.15 83.00l2.1 -3.1h3.2l2.1 3.1l-2.1 3.1h-3.2z" fill="#2a4ca6"/>
<path d="M578.15 90.00l2.1 -3.1h3.2l2.1 3.1l-2.1 3.1h-3.2z" fill="#2a4ca6"/>
<path d="M578.15 93.00l2.1 -3.1h3.2l2.1 3.1l-2.1 3.1h-3.2z" fill="#2a4ca6"/>
<path d="M578.15 96.00l2.1 -3.1h3.2l2.1 3.1l-2.1 3.1h-3.2z" fill="#2a4ca6"/>
<path d="M578.15 99.50l2.1 -3.1h3.2l2.1 3.1l-2.1 3.1h-3.2z" fill="#2a4ca6"/>
<path d="M578.15 107.40l2.1 -3.1h3.2l2.1 3.1l-2.1 3.1h-3.2z" fill="#2a4ca6"/>
<path d="M578.15 110.50l2.1 -3.1h3.2l2.1 3.1l-2.1 3.1h-3.2z" fill="#2a4ca6"/>
<path d="M578.15 114.00l2.1 -3.1h3.2l2.1 3.1l-2.1 3.1h-3.2z" fill="#2a4ca6"/>
<path d="M578.15 117.50l2.1 -3.1h3.2l2.1 3.1l-2.1 3.1h-3.2z" fill="#2a4ca6"/>
<path d="M578.15 120.90l2.1 -3.1h3.2l2.1 3.1l-2.1 3.1h-3.2z" fill="#2a4ca6"/>
<polyline points="68.49,380.45 69.37,378.97 70.26,377.49 71.15,376.01 72.03,374.53 72.92,373.05 73.81,371.57 74.69,370.09 75.58,368.60 76.47,367.12 77.35,365.64 78.24,364.16 79.12,362.68 80.01,361.20 80.90,359.72 81.78,358.24 82.67,356.76 83.56,355.28 84.44,353.79 85.33,352.31 86.22,350.83 87.10,349.35 87.99,347.87 88.87,346.39 89.76,344.91 90.65,343.43 91.53,341.95 92.42,340.47 93.31,338.99 94.19,337.51 95.08,336.03 95.96,334.55 96.85,333.07 97.74,331.59 98.62,330.11 99.51,328.63 100.40,327.15 101.28,325.67 102.17,324.19 103.06,322.71 103.94,321.23 104.83,319.75 105.71,318.28 106.60,316.80 107.49,315.32 108.37,313.84 109.26,312.37 110.15,310.89 111.03,309.42 111.92,307.94 112.80,306.47 113.69,304.99 114.58,303.52 115.46,302.04 116.35,300.57 117.24,299.10 118.12,297.63 119.01,296.16 119.90,294.69 120.78,293.22 121.67,291.75 122.55,290.28 123.44,288.82 124.33,287.35 125.21,285.89 126.10,284.42 126.99,282.96 127.87,281.50 128.76,280.04 129.65,278.58 130.53,277.13 131.42,275.67 132.30,274.22 133.19,272.77 134.08,271.31 134.96,269.87 135.85,268.42 136.74,266.97 137.62,265.53 138.51,264.09 139.39,262.65 140.28,261.21 141.17,259.78 142.05,258.34 142.94,256.91 143.83,255.48 144.71,254.06 145.60,252.63 146.49,251.21 147.37,249.80 148.26,248.38 149.14,246.97 150.03,245.56 150.92,244.15 151.80,242.75 152.69,241.35 153.58,239.96 154.46,238.57 155.35,237.18 156.24,235.79 157.12,234.41 158.01,233.03 158.89,231.66 159.78,230.29 160.67,228.93 161.55,227.57 162.44,226.21 163.33,224.86 164.21,223.51 165.10,222.17 165.98,220.83 166.87,219.50 167.76,218.17 168.64,216.85 169.53,215.53 170.42,214.22 171.30,212.91 172.19,211.61 173.08,210.32 173.96,209.03 174.85,207.75 175.73,206.47 176.62,205.20 177.51,203.93 178.39,202.68 179.28,201.42 180.17,200.18 181.05,198.94 181.94,197.71 182.83,196.48 183.71,195.26 184.60,194.05 185.48,192.85 186.37,191.65 187.26,190.46 188.14,189.28 189.03,188.10 189.92,186.94 190.80,185.78 191.69,184.62 192.57,183.48 193.46,182.34 194.35,181.22 195.23,180.10 196.12,178.98 197.01,177.88 197.89,176.78 198.78,175.69 199.67,174.62 200.55,173.54 201.44,172.48 202.32,171.43 203.21,170.38 204.10,169.35 204.98,168.32 205.87,167.30 206.76,166.29 207.64,165.29 208.53,164.29 209.41,163.31 210.30,162.33 211.19,161.37 212.07,160.41 212.96,159.46 213.85,158.52 214.73,157.59 215.62,156.67 216.51,155.75 217.39,154.85 218.28,153.96 219.16,153.07 220.05,152.19 220.94,151.33 221.82,150.47 222.71,149.62 223.60,148.78 224.48,147.95 225.37,147.12 226.26,146.31 227.14,145.50 228.03,144.71 228.91,143.92 229.80,143.14 230.69,142.37 231.57,141.61 232.46,140.86 233.35,140.12 234.23,139.38 235.12,138.66 236.00,137.94 236.89,137.23 237.78,136.53 238.66,135.84 239.55,135.16 240.44,134.48 241.32,133.81 242.21,133.15 243.10,132.50 243.98,131.86 244.87,131.23 245.75,130.60 246.64,129.98 247.53,129.37 248.41,128.77 249.30,128.18 250.19,127.59 251.07,127.01 251.96,126.44 252.85,125.87 253.73,125.32 254.62,124.77 255.50,124.23 256.39,123.69 257.28,123.16 258.16,122.64 259.05,122.13 259.94,121.62 260.82,121.12 261.71,120.63 262.59,120.14 263.48,119.67 264.37,119.19 265.25,118.73 266.14,118.27 267.03,117.81 267.91,117.37 268.80,116.92 269.69,116.49 270.57,116.06 271.46,115.64 272.34,115.22 273.23,114.81 274.12,114.41 275.00,114.01 275.89,113.61 276.78,113.23 277.66,112.84 278.55,112.47 279.43,112.09 280.32,111.73 281.21,111.37 282.09,111.01 282.98,110.66 283.87,110.32 284.75,109.97 285.64,109.64 286.53,109.31 287.41,108.98 288.30,108.66 289.18,108.34 290.07,108.03 290.96,107.72 291.84,107.42 292.73,107.12 293.62,106.83 294.50,106.54 295.39,106.25 296.28,105.97 297.16,105.69 298.05,105.42 298.93,105.15 299.82,104.88 300.71,104.62 301.59,104.36 302.48,104.11 303.37,103.86 304.25,103.61 305.14,103.37 306.02,103.13 306.91,102.89 307.80,102.66 308.68,102.43 309.57,102.20 310.46,101.98 311.34,101.76 312.23,101.54 313.12,101.33 314.00,101.12 314.89,100.91 315.77,100.71 316.66,100.50 317.55,100.31 318.43,100.11 319.32,99.92 320.21,99.73 321.09,99.54 321.98,99.36 322.87,99.17 323.75,98.99 324.64,98.82 325.52,98.64 326.41,98.47 327.30,98.30 328.18,98.14 329.07,97.97 329.96,97.81 330.84,97.65 331.73,97.49 332.61,97.34 333.50,97.19 334.39,97.03 335.27,96.89 336.16,96.74 337.05,96.59 337.93,96.45 338.82,96.31 339.71,96.17 340.59,96.04 341.48,95.90 342.36,95.77 343.25,95.64 344.14,95.51 345.02,95.38 345.91,95.26 346.80,95.13 347.68,95.01 348.57,94.89 349.46,94.77 350.34,94.66 351.23,94.54 352.11,94.43 353.00,94.32 353.89,94.20 354.77,94.10 355.66,93.99 356.55,93.88 357.43,93.78 358.32,93.67 359.20,93.57 360.09,93.47 360.98,93.37 361.86,93.28 362.75,93.18 363.64,93.08 364.52,92.99 365.41,92.90 366.30,92.81 367.18,92.72 368.07,92.63 368.95,92.54 369.84,92.45 370.73,92.37 371.61,92.29 372.50,92.20 373.39,92.12 374.27,92.04 375.16,91.96 376.04,91.88 376.93,91.80 377.82,91.73 378.70,91.65 379.59,91.58 380.48,91.50 381.36,91.43 382.25,91.36 383.14,91.29 384.02,91.22 384.91,91.15 385.79,91.08 386.68,91.01 387.57,90.95 388.45,90.88 389.34,90.82 390.23,90.75 391.11,90.69 392.00,90.63 392.89,90.57 393.77,90.51 394.66,90.45 395.54,90.39 396.43,90.33 397.32,90.27 398.20,90.22 399.09,90.16 399.98,90.10 400.86,90.05 401.75,90.00 402.63,89.94 403.52,89.89 404.41,89.84 405.29,89.79 406.18,89.74 407.07,89.69 407.95,89.64 408.84,89.59 409.73,89.54 410.61,89.49 411.50,89.44 412.38,89.40 413.27,89.35 414.16,89.31 415.04,89.26 415.93,89.22 416.82,89.17 417.70,89.13 418.59,89.09 419.48,89.05 420.36,89.00 421.25,88.96 422.13,88.92 423.02,88.88 423.91,88.84 424.79,88.80 425.68,88.76 426.57,88.73 427.45,88.69 428.34,88.65 429.22,88.61 430.11,88.58 431.00,88.54 431.88,88.51 432.77,88.47 433.66,88.44 434.54,88.40 435.43,88.37 436.32,88.33 437.20,88.30 438.09,88.27 438.97,88.24 439.86,88.20 440.75,88.17 441.63,88.14 442.52,88.11 443.41,88.08 444.29,88.05 445.18,88.02 446.06,87.99 446.95,87.96 447.84,87.93 448.72,87.90 449.61,87.87 450.50,87.85 451.38,87.82 452.27,87.79 453.16,87.76 454.04,87.74 454.93,87.71 455.81,87.69 456.70,87.66 457.59,87.63 458.47,87.61 459.36,87.58 460.25,87.56 461.13,87.53 462.02,87.51 462.91,87.49 463.79,87.46 464.68,87.44 465.56,87.42 466.45,87.39 467.34,87.37 468.22,87.35 469.11,87.33 470.00,87.30 470.88,87.28 471.77,87.26 472.65,87.24 473.54,87.22 474.43,87.20 475.31,87.18 476.20,87.16 477.09,87.14 477.97,87.12 478.86,87.10 479.75,87.08 480.63,87.06 481.52,87.04 482.40,87.02 483.29,87.00 484.18,86.99 485.06,86.97 485.95,86.95 486.84,86.93 487.72,86.91 488.61,86.90 489.50,86.88 490.38,86.86 491.27,86.84 492.15,86.83 493.04,86.81 493.93,86.79 494.81,86.78 495.70,86.76 496.59,86.75 497.47,86.73 498.36,86.72 499.24,86.70 500.13,86.68 501.02,86.67 501.90,86.65 502.79,86.64 503.68,86.63 504.56,86.61 505.45,86.60 506.34,86.58 507.22,86.57 508.11,86.55 508.99,86.54 509.88,86.53 510.77,86.51 511.65,86.50 512.54,86.49 513.43,86.47 514.31,86.46 515.20,86.45 516.09,86.43 516.97,86.42 517.86,86.41 518.74,86.40 519.63,86.38 520.52,86.37 521.40,86.36 522.29,86.35 523.18,86.34 524.06,86.33 524.95,86.31 525.83,86.30 526.72,86.29 527.61,86.28 528.49,86.27 529.38,86.26 530.27,86.25 531.15,86.24 532.04,86.23 532.93,86.21 533.81,86.20 534.70,86.19 535.58,86.18 536.47,86.17 537.36,86.16 538.24,86.15 539.13,86.14 540.02,86.13 540.90,86.12 541.79,86.11 542.67,86.10 543.56,86.09 544.45,86.09 545.33,86.08 546.22,86.07 547.11,86.06 547.99,86.05 548.88,86.04 549.77,86.03 550.65,86.02 551.54,86.01 552.42,86.00 553.31,86.00 554.20,85.99 555.08,85.98 555.97,85.97 556.86,85.96 557.74,85.95 558.63,85.95 559.52,85.94 560.40,85.93 561.29,85.92 562.17,85.92 563.06,85.91 563.95,85.90 564.83,85.89 565.72,85.88 566.61,85.88 567.49,85.87 568.38,85.86 569.26,85.86 570.15,85.85 571.04,85.84 571.92,85.83 572.81,85.83 573.70,85.82 574.58,85.81 575.47,85.81 576.36,85.80 577.24,85.79 578.13,85.79 579.01,85.78 579.90,85.77 580.79,85.77 581.67,85.76 582.56,85.75 583.45,85.75 584.33,85.74 585.22,85.73 586.11,85.73 586.99,85.72 587.88,85.72 588.76,85.71 589.65,85.70 590.54,85.70 591.42,85.69 592.31,85.69 593.20,85.68 594.08,85.68 594.97,85.67 595.85,85.66 596.74,85.66 597.63,85.65 598.51,85.65 599.40,85.64" stroke="#1e8cff" stroke-width="2.85" fill="none" stroke-linejoin="round"/>
<path d="M68.4 25.0H593.9" stroke="#333a40" stroke-width="1.1"/>
<path d="M68.4 379.9H593.9" stroke="#333a40" stroke-width="1.1"/>
<path d="M68.4 24.5V380.4" stroke="#333a40" stroke-width="1.1"/>
<polyline points="68.40,379.60 69.29,379.60 70.17,379.60 71.06,379.60 71.95,379.60 72.83,379.60 73.72,379.60 74.61,379.60 75.49,379.60 76.38,379.60 77.26,379.60 78.15,379.60 79.04,379.60 79.92,379.60 80.81,379.59 81.70,379.59 82.58,379.59 83.47,379.59 84.36,379.58 85.24,379.58 86.13,379.57 87.02,379.56 87.90,379.55 88.79,379.54 89.68,379.53 90.56,379.52 91.45,379.50 92.33,379.49 93.22,379.47 94.11,379.45 94.99,379.42 95.88,379.40 96.77,379.37 97.65,379.33 98.54,379.30 99.43,379.26 100.31,379.21 101.20,379.16 102.09,379.11 102.97,379.05 103.86,378.99 104.75,378.92 105.63,378.85 106.52,378.77 107.41,378.69 108.29,378.60 109.18,378.50 110.06,378.39 110.95,378.28 111.84,378.16 112.72,378.04 113.61,377.90 114.50,377.76 115.38,377.61 116.27,377.45 117.16,377.28 118.04,377.10 118.93,376.91 119.82,376.72 120.70,376.51 121.59,376.29 122.48,376.06 123.36,375.82 124.25,375.56 125.13,375.30 126.02,375.02 126.91,374.73 127.79,374.43 128.68,374.11 129.57,373.78 130.45,373.44 131.34,373.09 132.23,372.72 133.11,372.33 134.00,371.94 134.89,371.52 135.77,371.10 136.66,370.65 137.55,370.20 138.43,369.72 139.32,369.23 140.20,368.73 141.09,368.21 141.98,367.67 142.86,367.12 143.75,366.55 144.64,365.97 145.52,365.37 146.41,364.75 147.30,364.12 148.18,363.47 149.07,362.80 149.96,362.12 150.84,361.42 151.73,360.70 152.62,359.97 153.50,359.22 154.39,358.45 155.27,357.67 156.16,356.87 157.05,356.06 157.93,355.23 158.82,354.39 159.71,353.53 160.59,352.65 161.48,351.76 162.37,350.86 163.25,349.94 164.14,349.01 165.03,348.06 165.91,347.10 166.80,346.12 167.69,345.14 168.57,344.14 169.46,343.13 170.34,342.10 171.23,341.07 172.12,340.02 173.00,338.97 173.89,337.90 174.78,336.83 175.66,335.74 176.55,334.65 177.44,333.55 178.32,332.44 179.21,331.33 180.10,330.20 180.98,329.08 181.87,327.94 182.76,326.81 183.64,325.66 184.53,324.52 185.42,323.37 186.30,322.22 187.19,321.07 188.07,319.91 188.96,318.76 189.85,317.60 190.73,316.45 191.62,315.30 192.51,314.14 193.39,313.00 194.28,311.85 195.17,310.71 196.05,309.57 196.94,308.44 197.83,307.31 198.71,306.19 199.60,305.07 200.49,303.96 201.37,302.86 202.26,301.77 203.14,300.69 204.03,299.61 204.92,298.55 205.80,297.50 206.69,296.45 207.58,295.42 208.46,294.40 209.35,293.40 210.24,292.40 211.12,291.42 212.01,290.45 212.90,289.50 213.78,288.56 214.67,287.64 215.56,286.73 216.44,285.83 217.33,284.96 218.21,284.09 219.10,283.25 219.99,282.42 220.87,281.61 221.76,280.82 222.65,280.04 223.53,279.28 224.42,278.54 225.31,277.82 226.19,277.12 227.08,276.43 227.97,275.77 228.85,275.12 229.74,274.49 230.63,273.88 231.51,273.29 232.40,272.72 233.28,272.16 234.17,271.63 235.06,271.12 235.94,270.62 236.83,270.15 237.72,269.69 238.60,269.25 239.49,268.84 240.38,268.44 241.26,268.06 242.15,267.70 243.04,267.36 243.92,267.03 244.81,266.73 245.70,266.44 246.58,266.17 247.47,265.92 248.35,265.69 249.24,265.48 250.13,265.28 251.01,265.10 251.90,264.94 252.79,264.80 253.67,264.67 254.56,264.56 255.45,264.47 256.33,264.39 257.22,264.33 258.11,264.28 258.99,264.25 259.88,264.24 260.77,264.24 261.65,264.25 262.54,264.28 263.43,264.33 264.31,264.39 265.20,264.46 266.08,264.55 266.97,264.65 267.86,264.76 268.74,264.88 269.63,265.02 270.52,265.17 271.40,265.33 272.29,265.51 273.18,265.69 274.06,265.89 274.95,266.10 275.84,266.32 276.72,266.55 277.61,266.79 278.50,267.04 279.38,267.30 280.27,267.57 281.15,267.84 282.04,268.13 282.93,268.43 283.81,268.73 284.70,269.04 285.59,269.37 286.47,269.69 287.36,270.03 288.25,270.37 289.13,270.72 290.02,271.08 290.91,271.44 291.79,271.81 292.68,272.19 293.57,272.57 294.45,272.96 295.34,273.36 296.22,273.75 297.11,274.16 298.00,274.57 298.88,274.98 299.77,275.40 300.66,275.82 301.54,276.25 302.43,276.68 303.32,277.11 304.20,277.55 305.09,277.99 305.98,278.44 306.86,278.89 307.75,279.34 308.64,279.79 309.52,280.25 310.41,280.71 311.29,281.17 312.18,281.63 313.07,282.10 313.95,282.57 314.84,283.04 315.73,283.51 316.61,283.98 317.50,284.45 318.39,284.93 319.27,285.41 320.16,285.88 321.05,286.36 321.93,286.84 322.82,287.32 323.71,287.80 324.59,288.28 325.48,288.76 326.36,289.24 327.25,289.73 328.14,290.21 329.02,290.69 329.91,291.17 330.80,291.65 331.68,292.13 332.57,292.62 333.46,293.10 334.34,293.58 335.23,294.06 336.12,294.53 337.00,295.01 337.89,295.49 338.78,295.97 339.66,296.44 340.55,296.92 341.44,297.39 342.32,297.86 343.21,298.34 344.09,298.81 344.98,299.27 345.87,299.74 346.75,300.21 347.64,300.67 348.53,301.14 349.41,301.60 350.30,302.06 351.19,302.52 352.07,302.98 352.96,303.43 353.85,303.89 354.73,304.34 355.62,304.79 356.51,305.24 357.39,305.69 358.28,306.13 359.16,306.58 360.05,307.02 360.94,307.46 361.82,307.90 362.71,308.33 363.60,308.77 364.48,309.20 365.37,309.63 366.26,310.06 367.14,310.48 368.03,310.91 368.92,311.33 369.80,311.75 370.69,312.17 371.58,312.58 372.46,313.00 373.35,313.41 374.23,313.82 375.12,314.23 376.01,314.63 376.89,315.03 377.78,315.44 378.67,315.83 379.55,316.23 380.44,316.62 381.33,317.02 382.21,317.41 383.10,317.79 383.99,318.18 384.87,318.56 385.76,318.94 386.65,319.32 387.53,319.70 388.42,320.07 389.30,320.45 390.19,320.82 391.08,321.18 391.96,321.55 392.85,321.91 393.74,322.27 394.62,322.63 395.51,322.99 396.40,323.34 397.28,323.70 398.17,324.05 399.06,324.39 399.94,324.74 400.83,325.08 401.72,325.42 402.60,325.76 403.49,326.10 404.37,326.44 405.26,326.77 406.15,327.10 407.03,327.43 407.92,327.75 408.81,328.08 409.69,328.40 410.58,328.72 411.47,329.04 412.35,329.36 413.24,329.67 414.13,329.98 415.01,330.29 415.90,330.60 416.79,330.91 417.67,331.21 418.56,331.51 419.45,331.81 420.33,332.11 421.22,332.40 422.10,332.70 422.99,332.99 423.88,333.28 424.76,333.57 425.65,333.85 426.54,334.14 427.42,334.42 428.31,334.70 429.20,334.98 430.08,335.25 430.97,335.53 431.86,335.80 432.74,336.07 433.63,336.34 434.52,336.61 435.40,336.87 436.29,337.13 437.17,337.40 438.06,337.66 438.95,337.91 439.83,338.17 440.72,338.42 441.61,338.68 442.49,338.93 443.38,339.18 444.27,339.42 445.15,339.67 446.04,339.91 446.93,340.16 447.81,340.40 448.70,340.64 449.59,340.87 450.47,341.11 451.36,341.34 452.24,341.58 453.13,341.81 454.02,342.04 454.90,342.26 455.79,342.49 456.68,342.71 457.56,342.94 458.45,343.16 459.34,343.38 460.22,343.60 461.11,343.81 462.00,344.03 462.88,344.24 463.77,344.45 464.66,344.67 465.54,344.87 466.43,345.08 467.31,345.29 468.20,345.49 469.09,345.70 469.97,345.90 470.86,346.10 471.75,346.30 472.63,346.50 473.52,346.69 474.41,346.89 475.29,347.08 476.18,347.28 477.07,347.47 477.95,347.66 478.84,347.84 479.73,348.03 480.61,348.22 481.50,348.40 482.38,348.59 483.27,348.77 484.16,348.95 485.04,349.13 485.93,349.31 486.82,349.48 487.70,349.66 488.59,349.83 489.48,350.01 490.36,350.18 491.25,350.35 492.14,350.52 493.02,350.69 493.91,350.86 494.80,351.02 495.68,351.19 496.57,351.35 497.46,351.51 498.34,351.68 499.23,351.84 500.11,352.00 501.00,352.15 501.89,352.31 502.77,352.47 503.66,352.62 504.55,352.78 505.43,352.93 506.32,353.08 507.21,353.23 508.09,353.38 508.98,353.53 509.87,353.68 510.75,353.83 511.64,353.97 512.53,354.12 513.41,354.26 514.30,354.40 515.18,354.54 516.07,354.69 516.96,354.83 517.84,354.96 518.73,355.10 519.62,355.24 520.50,355.38 521.39,355.51 522.28,355.65 523.16,355.78 524.05,355.91 524.94,356.04 525.82,356.17 526.71,356.30 527.60,356.43 528.48,356.56 529.37,356.69 530.25,356.81 531.14,356.94 532.03,357.06 532.91,357.19 533.80,357.31 534.69,357.43 535.57,357.55 536.46,357.68 537.35,357.80 538.23,357.91 539.12,358.03 540.01,358.15 540.89,358.27 541.78,358.38 542.67,358.50 543.55,358.61 544.44,358.72 545.32,358.84 546.21,358.95 547.10,359.06 547.98,359.17 548.87,359.28 549.76,359.39 550.64,359.50 551.53,359.61 552.42,359.71 553.30,359.82 554.19,359.93 555.08,360.03 555.96,360.13 556.85,360.24 557.74,360.34 558.62,360.44 559.51,360.54 560.39,360.64 561.28,360.74 562.17,360.84 563.05,360.94 563.94,361.04 564.83,361.14 565.71,361.24 566.60,361.33 567.49,361.43 568.37,361.52 569.26,361.62 570.15,361.71 571.03,361.80 571.92,361.90 572.81,361.99 573.69,362.08 574.58,362.17 575.47,362.26 576.35,362.35 577.24,362.44 578.12,362.53 579.01,362.62 579.90,362.70 580.78,362.79 581.67,362.88 582.56,362.96 583.44,363.05 584.33,363.13 585.22,363.22 586.10,363.30 586.99,363.38 587.88,363.47 588.76,363.55 589.65,363.63 590.54,363.71 591.42,363.79 592.31,363.87 593.19,363.95 594.08,364.03 594.97,364.11 595.85,364.19 596.74,364.26 597.63,364.34 598.51,364.42 599.40,364.49" stroke="#0a8a0a" stroke-width="2.7" fill="none" stroke-linejoin="round"/>
<path d="M599.4 24.5V380.4" stroke="#0a8a0a" stroke-width="1.2"/>
<path d="M156.9 25.0v5M156.9 379.9v-5M245.4 25.0v5M245.4 379.9v-5M333.9 25.0v5M333.9 379.9v-5M422.4 25.0v5M422.4 379.9v-5M510.9 25.0v5M510.9 379.9v-5M68.4 320.8h5M68.4 261.6h5M68.4 202.4h5M68.4 143.3h5M68.4 84.1h5" stroke="#333a40" stroke-width="1.1"/>
<path d="M599.4 379.9h-5.5M599.4 320.8h-5.5M599.4 261.6h-5.5M599.4 202.4h-5.5M599.4 143.3h-5.5M599.4 84.1h-5.5M599.4 25.0h-5.5" stroke="#0a8a0a" stroke-width="1.2"/>
<text x="58.6" y="386.5" font-size="18.8" text-anchor="end" fill="#1a1a1a">0</text>
<text x="56.0" y="328.2" font-size="18.8" text-anchor="end" fill="#1a1a1a">0.2</text>
<text x="56.0" y="269.1" font-size="18.8" text-anchor="end" fill="#1a1a1a">0.4</text>
<text x="56.0" y="209.9" font-size="18.8" text-anchor="end" fill="#1a1a1a">0.6</text>
<text x="56.0" y="150.8" font-size="18.8" text-anchor="end" fill="#1a1a1a">0.8</text>
<text x="56.0" y="91.6" font-size="18.8" text-anchor="end" fill="#1a1a1a">1</text>
<text x="56.0" y="32.5" font-size="18.8" text-anchor="end" fill="#1a1a1a">1.2</text>
<text x="67.2" y="404.2" font-size="18.8" text-anchor="middle" fill="#1a1a1a">0</text>
<text x="155.7" y="404.2" font-size="18.8" text-anchor="middle" fill="#1a1a1a">0.5</text>
<text x="244.2" y="404.2" font-size="18.8" text-anchor="middle" fill="#1a1a1a">1</text>
<text x="332.7" y="404.2" font-size="18.8" text-anchor="middle" fill="#1a1a1a">1.5</text>
<text x="421.2" y="404.2" font-size="18.8" text-anchor="middle" fill="#1a1a1a">2</text>
<text x="509.7" y="404.2" font-size="18.8" text-anchor="middle" fill="#1a1a1a">2.5</text>
<text x="598.2" y="404.2" font-size="18.8" text-anchor="middle" fill="#1a1a1a">3</text>
<text x="608.3" y="389.7" font-size="18.8" fill="#0a8a0a">0</text>
<text x="608.3" y="327.9" font-size="18.8" fill="#0a8a0a">0.01</text>
<text x="608.3" y="269.7" font-size="18.8" fill="#0a8a0a">0.02</text>
<text x="608.3" y="210.6" font-size="18.8" fill="#0a8a0a">0.03</text>
<text x="608.3" y="150.5" font-size="18.8" fill="#0a8a0a">0.04</text>
<text x="608.3" y="89.7" font-size="18.8" fill="#0a8a0a">0.05</text>
<text x="608.3" y="36.0" font-size="18.8" fill="#0a8a0a">0.06</text>
<text x="333" y="431" font-size="19.2" text-anchor="middle" fill="#1a1a1a">PET/P - Dryness index</text>
<text transform="translate(16.3,196.5) rotate(-90)" font-size="19.2" text-anchor="middle" fill="#1a1a1a">ET/P - Evaporative index</text>
<text transform="translate(684.3,207.5) rotate(-90)" font-size="19.6" text-anchor="middle" fill="#0a8a0a">&#916;ET/P</text>
<path d="M108.5 9.3H176.3" stroke="#ff4a12" stroke-width="2.4"/>
<text x="182" y="14.8" font-size="19.0" fill="#1a1a1a">CTL</text>
<path d="M253.4 9.3H321.2" stroke="#1e8cff" stroke-width="2.4"/>
<text x="327" y="14.8" font-size="19.0" fill="#1a1a1a">SCE</text>
<path d="M397.4 9.3H465" stroke="#0a8a0a" stroke-width="2.4"/>
<text x="471" y="14.8" font-size="19.0" fill="#1a1a1a">SCE-CTL</text>
<text transform="translate(120,234) rotate(-58)" font-size="17.7" fill="#000">Energy Limit</text>
<text x="373" y="67.5" font-size="17.7" fill="#000">Water Limit</text>
<text x="188" y="366.1" font-size="17.7" fill="#000">Humid</text>
<text x="378.2" y="345" font-size="17.7" text-anchor="middle" fill="#000">Dry</text>
<text x="380.3" y="366.1" font-size="17.7" text-anchor="middle" fill="#000">sub-humid</text>
<text x="521" y="345" font-size="17.7" text-anchor="middle" fill="#000">Semi-arid</text>
<text x="523.4" y="366.1" font-size="17.7" text-anchor="middle" fill="#000">and arid</text>
<clipPath id="ic"><rect x="400.3" y="160.0" width="166.4" height="134.2"/></clipPath>
<g clip-path="url(#ic)">
<polyline points="400.30,300.42 401.14,299.32 401.97,298.22 402.81,297.14 403.64,296.06 404.48,294.98 405.32,293.91 406.15,292.85 406.99,291.79 407.83,290.74 408.66,289.69 409.50,288.65 410.33,287.62 411.17,286.59 412.01,285.57 412.84,284.55 413.68,283.54 414.52,282.54 415.35,281.54 416.19,280.55 417.02,279.56 417.86,278.58 418.70,277.60 419.53,276.63 420.37,275.67 421.20,274.71 422.04,273.76 422.88,272.81 423.71,271.87 424.55,270.94 425.39,270.01 426.22,269.09 427.06,268.17 427.89,267.26 428.73,266.35 429.57,265.45 430.40,264.56 431.24,263.67 432.07,262.79 432.91,261.92 433.75,261.04 434.58,260.18 435.42,259.32 436.26,258.47 437.09,257.62 437.93,256.78 438.76,255.94 439.60,255.11 440.44,254.29 441.27,253.47 442.11,252.65 442.95,251.84 443.78,251.04 444.62,250.24 445.45,249.45 446.29,248.67 447.13,247.89 447.96,247.11 448.80,246.34 449.63,245.58 450.47,244.82 451.31,244.07 452.14,243.32 452.98,242.58 453.82,241.84 454.65,241.11 455.49,240.38 456.32,239.66 457.16,238.94 458.00,238.23 458.83,237.53 459.67,236.83 460.51,236.13 461.34,235.44 462.18,234.76 463.01,234.08 463.85,233.40 464.69,232.73 465.52,232.07 466.36,231.41 467.19,230.75 468.03,230.10 468.87,229.46 469.70,228.82 470.54,228.18 471.38,227.55 472.21,226.93 473.05,226.31 473.88,225.69 474.72,225.08 475.56,224.47 476.39,223.87 477.23,223.27 478.06,222.68 478.90,222.09 479.74,221.51 480.57,220.93 481.41,220.36 482.25,219.79 483.08,219.22 483.92,218.66 484.75,218.10 485.59,217.55 486.43,217.00 487.26,216.46 488.10,215.92 488.94,215.39 489.77,214.86 490.61,214.33 491.44,213.81 492.28,213.29 493.12,212.78 493.95,212.27 494.79,211.76 495.62,211.26 496.46,210.76 497.30,210.27 498.13,209.78 498.97,209.29 499.81,208.81 500.64,208.33 501.48,207.86 502.31,207.39 503.15,206.92 503.99,206.46 504.82,206.00 505.66,205.55 506.49,205.09 507.33,204.65 508.17,204.20 509.00,203.76 509.84,203.33 510.68,202.89 511.51,202.46 512.35,202.04 513.18,201.61 514.02,201.19 514.86,200.78 515.69,200.37 516.53,199.96 517.37,199.55 518.20,199.15 519.04,198.75 519.87,198.35 520.71,197.96 521.55,197.57 522.38,197.19 523.22,196.80 524.05,196.42 524.89,196.05 525.73,195.67 526.56,195.30 527.40,194.94 528.24,194.57 529.07,194.21 529.91,193.85 530.74,193.50 531.58,193.15 532.42,192.80 533.25,192.45 534.09,192.11 534.93,191.77 535.76,191.43 536.60,191.09 537.43,190.76 538.27,190.43 539.11,190.10 539.94,189.78 540.78,189.46 541.61,189.14 542.45,188.82 543.29,188.51 544.12,188.20 544.96,187.89 545.80,187.58 546.63,187.28 547.47,186.98 548.30,186.68 549.14,186.39 549.98,186.09 550.81,185.80 551.65,185.51 552.48,185.23 553.32,184.94 554.16,184.66 554.99,184.38 555.83,184.10 556.67,183.83 557.50,183.56 558.34,183.29 559.17,183.02 560.01,182.75 560.85,182.49 561.68,182.23 562.52,181.97 563.36,181.71 564.19,181.46 565.03,181.21 565.86,180.96 566.70,180.71" stroke="#ff4a12" stroke-width="2.8" fill="none"/>
<polyline points="400.30,293.84 401.14,292.68 401.97,291.53 402.81,290.38 403.64,289.24 404.48,288.10 405.32,286.97 406.15,285.85 406.99,284.73 407.83,283.62 408.66,282.52 409.50,281.42 410.33,280.33 411.17,279.24 412.01,278.16 412.84,277.09 413.68,276.02 414.52,274.96 415.35,273.91 416.19,272.86 417.02,271.82 417.86,270.79 418.70,269.76 419.53,268.74 420.37,267.72 421.20,266.71 422.04,265.71 422.88,264.71 423.71,263.72 424.55,262.74 425.39,261.76 426.22,260.79 427.06,259.83 427.89,258.87 428.73,257.92 429.57,256.98 430.40,256.04 431.24,255.11 432.07,254.18 432.91,253.26 433.75,252.35 434.58,251.45 435.42,250.55 436.26,249.65 437.09,248.77 437.93,247.89 438.76,247.01 439.60,246.15 440.44,245.28 441.27,244.43 442.11,243.58 442.95,242.74 443.78,241.90 444.62,241.07 445.45,240.25 446.29,239.43 447.13,238.62 447.96,237.81 448.80,237.02 449.63,236.22 450.47,235.44 451.31,234.66 452.14,233.88 452.98,233.11 453.82,232.35 454.65,231.60 455.49,230.85 456.32,230.10 457.16,229.36 458.00,228.63 458.83,227.90 459.67,227.18 460.51,226.47 461.34,225.76 462.18,225.06 463.01,224.36 463.85,223.67 464.69,222.98 465.52,222.30 466.36,221.63 467.19,220.96 468.03,220.30 468.87,219.64 469.70,218.99 470.54,218.34 471.38,217.70 472.21,217.06 473.05,216.43 473.88,215.81 474.72,215.19 475.56,214.58 476.39,213.97 477.23,213.36 478.06,212.77 478.90,212.17 479.74,211.59 480.57,211.00 481.41,210.43 482.25,209.85 483.08,209.29 483.92,208.72 484.75,208.17 485.59,207.61 486.43,207.07 487.26,206.52 488.10,205.99 488.94,205.45 489.77,204.93 490.61,204.40 491.44,203.88 492.28,203.37 493.12,202.86 493.95,202.36 494.79,201.85 495.62,201.36 496.46,200.87 497.30,200.38 498.13,199.90 498.97,199.42 499.81,198.95 500.64,198.48 501.48,198.01 502.31,197.55 503.15,197.10 503.99,196.65 504.82,196.20 505.66,195.75 506.49,195.31 507.33,194.88 508.17,194.45 509.00,194.02 509.84,193.60 510.68,193.18 511.51,192.76 512.35,192.35 513.18,191.94 514.02,191.54 514.86,191.14 515.69,190.74 516.53,190.35 517.37,189.96 518.20,189.57 519.04,189.19 519.87,188.81 520.71,188.44 521.55,188.07 522.38,187.70 523.22,187.34 524.05,186.97 524.89,186.62 525.73,186.26 526.56,185.91 527.40,185.57 528.24,185.22 529.07,184.88 529.91,184.54 530.74,184.21 531.58,183.88 532.42,183.55 533.25,183.22 534.09,182.90 534.93,182.58 535.76,182.27 536.60,181.96 537.43,181.65 538.27,181.34 539.11,181.03 539.94,180.73 540.78,180.44 541.61,180.14 542.45,179.85 543.29,179.56 544.12,179.27 544.96,178.99 545.80,178.70 546.63,178.43 547.47,178.15 548.30,177.88 549.14,177.61 549.98,177.34 550.81,177.07 551.65,176.81 552.48,176.55 553.32,176.29 554.16,176.03 554.99,175.78 555.83,175.53 556.67,175.28 557.50,175.03 558.34,174.79 559.17,174.55 560.01,174.31 560.85,174.07 561.68,173.84 562.52,173.60 563.36,173.37 564.19,173.14 565.03,172.92 565.86,172.69 566.70,172.47" stroke="#1e8cff" stroke-width="2.8" fill="none"/>
</g>
<path d="M400.3 160.0V294.2H566.7" stroke="#333a40" stroke-width="1.1" fill="none"/>
<path d="M413.1 294.2v-3M464.3 294.2v-3M515.5 294.2v-3M566.7 294.2v-3M400.3 244.5h3M400.3 194.8h3" stroke="#333a40" stroke-width="1.1"/>
<text x="393.3" y="300.7" font-size="16.6" text-anchor="end" fill="#1a1a1a">0.7</text>
<text x="393.3" y="251.0" font-size="16.6" text-anchor="end" fill="#1a1a1a">0.8</text>
<text x="393.3" y="201.3" font-size="16.6" text-anchor="end" fill="#1a1a1a">0.9</text>
<text x="413.1" y="316.9" font-size="16.6" text-anchor="middle" fill="#1a1a1a">0.8</text>
<text x="464.3" y="316.9" font-size="16.6" text-anchor="middle" fill="#1a1a1a">1</text>
<text x="515.5" y="316.9" font-size="16.6" text-anchor="middle" fill="#1a1a1a">1.2</text>
<text x="566.7" y="316.9" font-size="16.6" text-anchor="middle" fill="#1a1a1a">1.4</text>
<text x="489.5" y="240.6" font-size="16.6" fill="#ff4a12">n = 3.6</text>
<text x="489.5" y="270.1" font-size="16.6" fill="#1e8cff">n = 4.1</text>
</svg></body></html>
